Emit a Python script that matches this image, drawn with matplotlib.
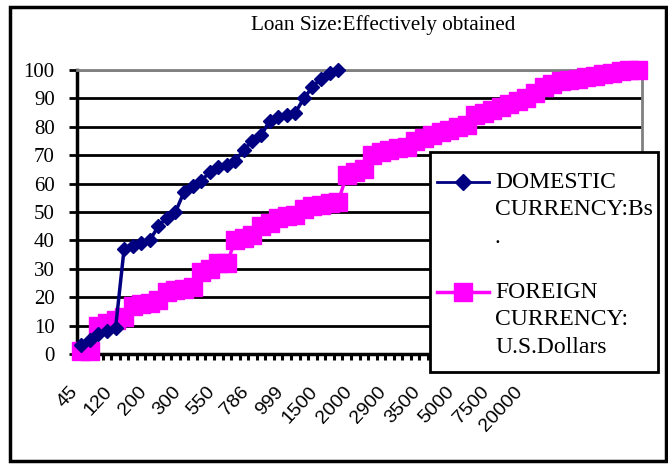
import numpy as np
import matplotlib
matplotlib.use("Agg")
import matplotlib.pyplot as plt
from matplotlib.lines import Line2D
from matplotlib.patches import Rectangle

# cumulative % of loans by size
domestic = [3, 5, 7, 8, 9, 37, 38, 39, 40, 45, 48, 50, 57, 59, 61, 64, 66, 66.5,
            68, 72, 75, 77, 82, 83.5, 84, 85, 90, 94, 97, 99, 100]
foreign = [1, 1, 10, 11, 12, 13, 17, 17.5, 18, 19, 22, 22.5, 23, 23.5, 29, 30,
           32, 32, 40, 41, 42, 45, 46, 48, 48.5, 49, 51, 52, 52.5, 53, 53.5, 63,
           64, 65, 70, 71, 72, 72.5, 73, 75, 76, 77, 78, 79, 80, 80.5, 84, 85,
           86, 87, 88, 89, 90, 92, 94, 95, 96, 96.5, 97, 97.5, 98, 98.5, 99,
           99.5, 100, 100]
x_labels = ["45", "120", "200", "300", "550", "786", "999", "1500", "2000",
            "2900", "3500", "5000", "7500", "20000"]
LABEL_STEP = 4
y_ticks = list(range(0, 101, 10))

NAVY, PINK = "#000080", "#FF00FF"
W, H = 668, 467
plt.rcParams["font.family"] = ["Liberation Serif", "DejaVu Serif"]


def fx(px):
    return px / W


def fy(py):
    return 1 - py / H


fig = plt.figure(figsize=(W / 100, H / 100), dpi=100)
ax = fig.add_axes([fx(77), fy(354), fx(642) - fx(77), fy(70) - fy(354)])

n = len(foreign)
ax.plot(np.arange(len(foreign)), foreign, color=PINK, lw=2.5, marker="s", ms=12.5,
        mec=PINK, mfc=PINK, zorder=3, clip_on=False)
ax.plot(np.arange(len(domestic)), domestic, color=NAVY, lw=2.5, marker="D", ms=7.5,
        mec=NAVY, mfc=NAVY, zorder=4, clip_on=False)

ax.set_xlim(-0.5, n - 0.5)
ax.set_ylim(0, 100)
ax.set_yticks(y_ticks)
ax.tick_params(axis="y", direction="out", length=6, width=2, color="black",
               labelsize=15, pad=10)
ax.set_xticks(np.arange(len(x_labels)) * LABEL_STEP)
ax.set_xticklabels(x_labels, rotation=47, ha="right", va="top",
                   family=["Liberation Sans", "DejaVu Sans"], fontsize=14)
ax.tick_params(axis="x", which="major", length=0, pad=21)
ax.set_xticks(np.arange(-0.5, n, 1), minor=True)
ax.tick_params(axis="x", which="minor", direction="out", length=4, width=2.2,
               color="black")

ax.grid(axis="y", color="black", lw=2)
ax.get_ygridlines()[-1].set_color("#808080")
ax.set_axisbelow(True)
for side in ("left", "bottom"):
    ax.spines[side].set_color("black")
    ax.spines[side].set_linewidth(2.5)
for side in ("top", "right"):
    ax.spines[side].set_color("#808080")
    ax.spines[side].set_linewidth(2)

fig.text(fx(383), fy(25), "Loan Size:Effectively obtained", ha="center",
         va="center", fontsize=15.3)

# outer frame
fig.add_artist(Rectangle((fx(10), fy(461)), fx(666) - fx(10), fy(7) - fy(461),
                         transform=fig.transFigure, fill=False, ec="black",
                         lw=2.5, zorder=6))

# legend box drawn by hand (handles sit on the first text line)
fig.add_artist(Rectangle((fx(430), fy(372)), fx(658) - fx(430), fy(152) - fy(372),
                         transform=fig.transFigure, fc="white", ec="black",
                         lw=2, zorder=5))
for yy, col, mk, ms, lw in [(182, NAVY, "D", 8.5, 2), (292, PINK, "s", 12.5, 2.5)]:
    fig.add_artist(Line2D([fx(437), fx(489)], [fy(yy), fy(yy)], color=col, lw=lw,
                          zorder=7, transform=fig.transFigure))
    fig.add_artist(Line2D([fx(463)], [fy(yy)], color=col, marker=mk, ms=ms,
                          mec=col, mfc=col, zorder=7, transform=fig.transFigure))
fig.text(fx(495), fy(172), "DOMESTIC\nCURRENCY:Bs\n.", ha="left", va="top",
         fontsize=17, linespacing=1.4, zorder=7)
fig.text(fx(495), fy(282), "FOREIGN\nCURRENCY:\nU.S.Dollars", ha="left",
         va="top", fontsize=17, linespacing=1.4, zorder=7)

fig.savefig("out.png", dpi=100)
